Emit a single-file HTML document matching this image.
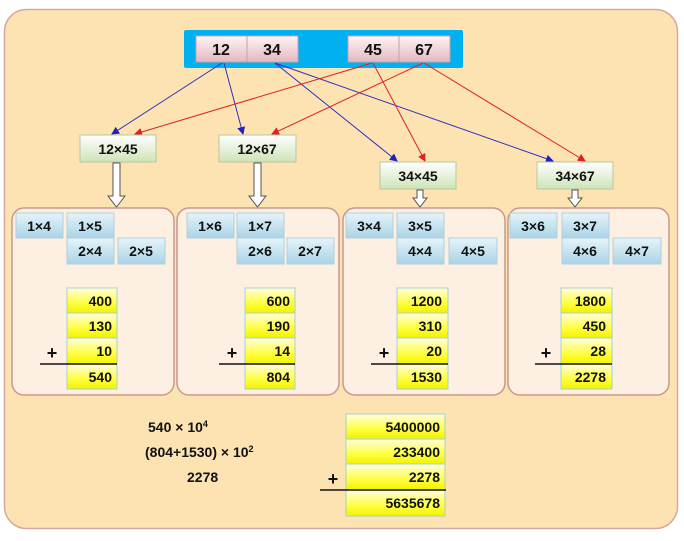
<!DOCTYPE html>
<html><head><meta charset="utf-8"><style>
html,body{margin:0;padding:0;background:#fff;}
svg{display:block;font-family:"Liberation Sans",Arial,sans-serif;font-weight:bold;}
</style></head><body>
<svg width="684" height="541" viewBox="0 0 684 541" xmlns="http://www.w3.org/2000/svg">
<defs>
<linearGradient id="pk" x1="0" y1="0" x2="0" y2="1"><stop offset="0" stop-color="#fff4f6"/><stop offset="1" stop-color="#e2b8c0"/></linearGradient>
<linearGradient id="gr" x1="0" y1="0" x2="0" y2="1"><stop offset="0" stop-color="#ffffff"/><stop offset="1" stop-color="#cfe3b8"/></linearGradient>
<linearGradient id="bl" x1="0" y1="0" x2="0" y2="1"><stop offset="0" stop-color="#e6f4fa"/><stop offset="1" stop-color="#a9d3e6"/></linearGradient>
<linearGradient id="yl" x1="0" y1="0" x2="0" y2="1"><stop offset="0" stop-color="#fffde0"/><stop offset="0.6" stop-color="#ffff40"/><stop offset="1" stop-color="#f2f200"/></linearGradient>
<marker id="ab" markerWidth="8" markerHeight="8" refX="7" refY="4" orient="auto" markerUnits="userSpaceOnUse"><path d="M0,0 L8,4 L0,8 z" fill="#2020c0"/></marker>
<marker id="ar" markerWidth="8" markerHeight="8" refX="7" refY="4" orient="auto" markerUnits="userSpaceOnUse"><path d="M0,0 L8,4 L0,8 z" fill="#e02020"/></marker>
</defs>
<rect x="4.5" y="9.5" width="673" height="519" rx="22" fill="#fde2b2" stroke="#d8a8a0" stroke-width="1.5"/>
<rect x="184" y="30" width="279" height="38" rx="2" fill="#00b0f0"/>
<g stroke="#c9a0a8" stroke-width="1" fill="url(#pk)">
<rect x="196" y="36" width="51" height="26"/><rect x="247" y="36" width="51" height="26"/>
<rect x="348" y="36" width="51" height="26"/><rect x="399" y="36" width="51" height="26"/>
</g>
<g font-size="16" text-anchor="middle" fill="#111">
<text x="221" y="55">12</text><text x="272" y="55">34</text><text x="373" y="55">45</text><text x="424" y="55">67</text>
</g>
<g stroke="#3030c0" stroke-width="1" fill="none" marker-end="url(#ab)">
<line x1="222" y1="63" x2="112" y2="134"/><line x1="224" y1="63" x2="243" y2="134"/>
<line x1="275" y1="63" x2="397" y2="161"/><line x1="275" y1="63" x2="553" y2="161"/>
</g>
<g stroke="#e02020" stroke-width="1" fill="none" marker-end="url(#ar)">
<line x1="372" y1="63" x2="135" y2="134"/><line x1="373" y1="63" x2="425" y2="161"/>
<line x1="423" y1="63" x2="272" y2="134"/><line x1="424" y1="63" x2="585" y2="161"/>
</g>
<g stroke="#b8c8a0" fill="url(#gr)">
<rect x="80" y="135" width="76" height="27"/><rect x="219" y="135" width="77" height="27"/>
<rect x="380" y="162" width="76" height="27"/><rect x="537" y="162" width="76" height="27"/>
</g>
<g font-size="14" text-anchor="middle" fill="#111">
<text x="118" y="154">12×45</text><text x="257" y="154">12×67</text>
<text x="418" y="181">34×45</text><text x="575" y="181">34×67</text>
</g>
<g fill="#fff" stroke="#555" stroke-width="1">
<path d="M113,163 h7 v33 h5 l-8.5,11 l-8.5,-11 h5 z"/>
<path d="M254,163 h7 v33 h5 l-8.5,11 l-8.5,-11 h5 z"/>
<path d="M417,190 h6 v8 h4 l-7,9 l-7,-9 h4 z"/>
<path d="M572,190 h6 v8 h4 l-7,9 l-7,-9 h4 z"/>
</g>
<g fill="#fdf0e2" stroke="#c89890" stroke-width="1.5">
<rect x="12" y="208" width="162" height="187" rx="12"/>
<rect x="177" y="208" width="162" height="187" rx="12"/>
<rect x="343" y="208" width="162" height="187" rx="12"/>
<rect x="508" y="208" width="161" height="187" rx="12"/>
</g>
<g fill="url(#bl)" stroke="#b0d0dc" stroke-width="1">
<rect x="16" y="213" width="47" height="25"/><rect x="67" y="213" width="47" height="25"/><rect x="67" y="238" width="47" height="26"/><rect x="118" y="238" width="47" height="26"/>
<rect x="187" y="213" width="47" height="25"/><rect x="237" y="213" width="47" height="25"/><rect x="237" y="238" width="47" height="26"/><rect x="287" y="238" width="47" height="26"/>
<rect x="346" y="213" width="47" height="25"/><rect x="397" y="213" width="47" height="25"/><rect x="397" y="238" width="47" height="26"/><rect x="449" y="238" width="48" height="26"/>
<rect x="510" y="213" width="47" height="25"/><rect x="562" y="213" width="47" height="25"/><rect x="562" y="238" width="47" height="26"/><rect x="613" y="238" width="48" height="26"/>
</g>
<g font-size="14" text-anchor="middle" fill="#111">
<text x="39" y="231">1×4</text><text x="90" y="231">1×5</text><text x="90" y="256">2×4</text><text x="141" y="256">2×5</text>
<text x="210" y="231">1×6</text><text x="260" y="231">1×7</text><text x="260" y="256">2×6</text><text x="310" y="256">2×7</text>
<text x="369" y="231">3×4</text><text x="420" y="231">3×5</text><text x="420" y="256">4×4</text><text x="473" y="256">4×5</text>
<text x="533" y="231">3×6</text><text x="585" y="231">3×7</text><text x="585" y="256">4×6</text><text x="637" y="256">4×7</text>
</g>
<g fill="url(#yl)" stroke="#a8d0c8" stroke-width="1">
<rect x="67" y="288" width="50" height="25"/><rect x="67" y="313" width="50" height="25"/><rect x="67" y="338" width="50" height="26"/><rect x="67" y="364" width="50" height="25"/>
<rect x="245" y="288" width="50" height="25"/><rect x="245" y="313" width="50" height="25"/><rect x="245" y="338" width="50" height="26"/><rect x="245" y="364" width="50" height="25"/>
<rect x="397" y="288" width="51" height="25"/><rect x="397" y="313" width="51" height="25"/><rect x="397" y="338" width="51" height="26"/><rect x="397" y="364" width="51" height="25"/>
<rect x="561" y="288" width="51" height="25"/><rect x="561" y="313" width="51" height="25"/><rect x="561" y="338" width="51" height="26"/><rect x="561" y="364" width="51" height="25"/>
<rect x="346" y="414" width="99" height="25"/><rect x="346" y="439" width="99" height="25"/><rect x="346" y="464" width="99" height="26"/><rect x="346" y="490" width="99" height="26"/>
</g>
<g stroke="#111" stroke-width="1.5">
<line x1="40" y1="364" x2="117" y2="364"/><line x1="219" y1="364" x2="295" y2="364"/>
<line x1="371" y1="364" x2="448" y2="364"/><line x1="535" y1="364" x2="612" y2="364"/>
<line x1="320" y1="490" x2="446" y2="490"/>
</g>
<g font-size="14" text-anchor="end" fill="#111">
<text x="112" y="306">400</text><text x="112" y="331">130</text><text x="112" y="356">10</text><text x="112" y="382">540</text>
<text x="290" y="306">600</text><text x="290" y="331">190</text><text x="290" y="356">14</text><text x="290" y="382">804</text>
<text x="442" y="306">1200</text><text x="442" y="331">310</text><text x="442" y="356">20</text><text x="442" y="382">1530</text>
<text x="606" y="306">1800</text><text x="606" y="331">450</text><text x="606" y="356">28</text><text x="606" y="382">2278</text>
<text x="440" y="432">5400000</text><text x="440" y="457">233400</text><text x="440" y="482">2278</text><text x="440" y="508">5635678</text>
</g>
<g font-size="18" text-anchor="middle" fill="#111">
<text x="52" y="359">+</text><text x="232" y="359">+</text><text x="384" y="359">+</text><text x="546" y="359">+</text><text x="333" y="485">+</text>
</g>
<g font-size="14" fill="#111">
<text x="148" y="432">540 × 10<tspan font-size="9" dy="-5">4</tspan></text>
<text x="145" y="457">(804+1530) × 10<tspan font-size="9" dy="-5">2</tspan></text>
<text x="187" y="482">2278</text>
</g>
</svg>
</body></html>
